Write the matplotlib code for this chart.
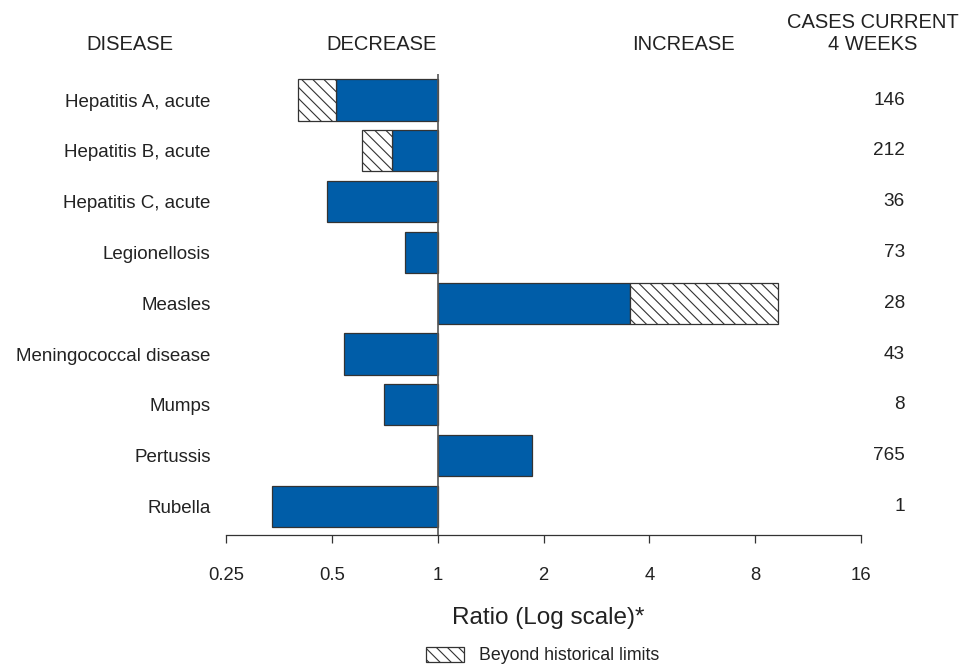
#%% imports

import matplotlib
matplotlib.use('Agg')
import matplotlib.pyplot as plt
from matplotlib.patches import Patch
from matplotlib.ticker import FixedLocator, NullLocator

plt.rcParams['font.family'] = ['Liberation Sans', 'DejaVu Sans']
plt.rcParams['hatch.linewidth'] = 0.8

#%% data

diseases = ['Hepatitis A, acute', 'Hepatitis B, acute', 'Hepatitis C, acute',
            'Legionellosis', 'Measles', 'Meningococcal disease', 'Mumps',
            'Pertussis', 'Rubella']
cases = [146, 212, 36, 73, 28, 43, 8, 765, 1]
# ratio of current 4 weeks to historical baseline (outer end of each bar)
ratio = [0.400, 0.608, 0.483, 0.806, 9.28, 0.540, 0.702, 1.85, 0.339]
# historical limit where the solid part stops (None = within limits)
limit = [0.513, 0.740, None, None, 3.52, None, None, None, None]

ticks = [0.25, 0.5, 1, 2, 4, 8, 16]
tick_labels = ['0.25', '0.5', '1', '2', '4', '8', '16']

#%% plot

blue = '#005DA8'
edge = '#333333'
txt = '#222222'

fig = plt.figure(figsize=(9.63, 6.67), dpi=100)
ax = fig.add_axes([226 / 963, 1 - 535 / 667, 635 / 963, 461 / 667])

rows = list(range(len(diseases)))
for i in rows:
    solid_end = limit[i] if limit[i] is not None else ratio[i]
    ax.barh(i, solid_end - 1, left=1, height=0.81, color=blue,
            edgecolor=edge, linewidth=0.9)
    if limit[i] is not None:
        ax.barh(i, ratio[i] - limit[i], left=limit[i], height=0.81,
                color='white', edgecolor=edge, linewidth=0.9, hatch='\\\\\\')

ax.set_xscale('log')
ax.set_xlim(0.25, 16)
ax.set_ylim(8.563, -0.512)
ax.xaxis.set_major_locator(FixedLocator(ticks))
ax.xaxis.set_minor_locator(NullLocator())
ax.set_xticklabels(tick_labels)
ax.tick_params(axis='x', direction='out', length=6, width=0.9, color=edge,
               pad=17, labelsize=13.3, labelcolor=txt)

ax.set_yticks(rows)
ax.set_yticklabels(diseases)
ax.tick_params(axis='y', length=0, pad=11, labelsize=13.5, labelcolor=txt)

for s in ['left', 'right', 'top']:
    ax.spines[s].set_visible(False)
ax.spines['bottom'].set_color(edge)
ax.spines['bottom'].set_linewidth(0.9)
ax.axvline(1, color='#555555', linewidth=1.2, zorder=3)

# current 4-week case counts on the right
for i in rows:
    ax.text(1.069, i, str(cases[i]), transform=ax.get_yaxis_transform(),
            ha='right', va='center', fontsize=13.7, color=txt)

# column headers
fig.text(130 / 963, 1 - 45 / 667, 'DISEASE', ha='center', va='center',
         fontsize=14.5, color=txt)
fig.text(382 / 963, 1 - 45 / 667, 'DECREASE', ha='center', va='center',
         fontsize=14.5, color=txt)
fig.text(683 / 963, 1 - 45 / 667, 'INCREASE', ha='center', va='center',
         fontsize=14.5, color=txt)
fig.text(873 / 963, 1 - 33.5 / 667, 'CASES CURRENT\n4 WEEKS', ha='center',
         va='center', multialignment='center', linespacing=1.15,
         fontsize=14.5, color=txt)

fig.text(548 / 963, 1 - 618 / 667, 'Ratio (Log scale)*', ha='center',
         va='center', fontsize=17.5, color=txt)

handle = Patch(facecolor='white', edgecolor=edge, linewidth=0.9, hatch='\\\\\\')
fig.legend([handle], ['Beyond historical limits'], loc='center left',
           bbox_to_anchor=(426 / 963, 1 - 655.5 / 667), frameon=False,
           borderpad=0, borderaxespad=0, handlelength=2.13, handleheight=0.96,
           handletextpad=0.84, fontsize=12.8, labelcolor=txt)

fig.savefig('out.png', dpi=100)
